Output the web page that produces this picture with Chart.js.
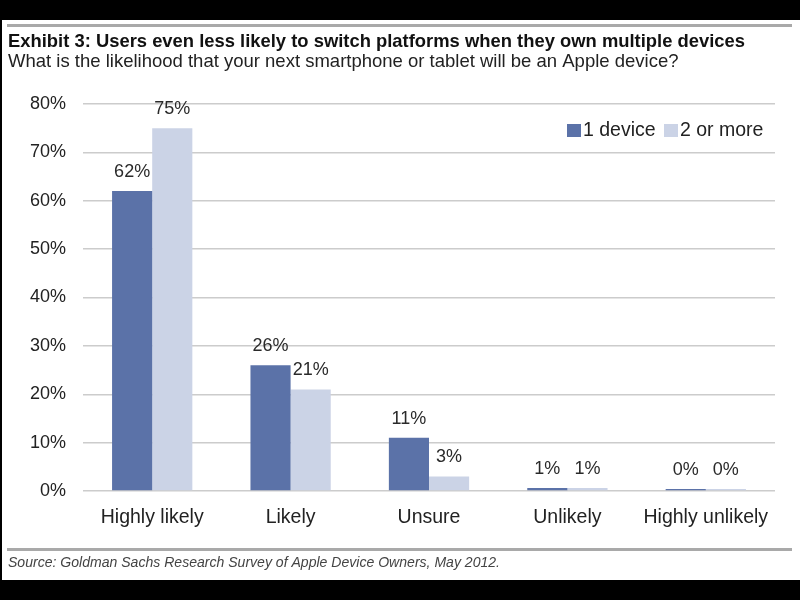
<!DOCTYPE html>
<html>
<head>
<meta charset="utf-8">
<script src="https://cdn.jsdelivr.net/npm/chart.js@4/dist/chart.umd.min.js"></script>
<style>
  html, body { margin: 0; padding: 0; background: #000; }
  canvas { display: block; }
</style>
</head>
<body>
<canvas id="myChart" width="800" height="600"></canvas>
<script>
// data
const categories = ["Highly likely", "Likely", "Unsure", "Unlikely", "Highly unlikely"];
const oneDevice = [62, 26, 11, 0.6, 0.4];
const twoOrMore = [75, 21, 3, 0.6, 0.4];
const seriesNames = ["1 device", "2 or more"];
const yTicks = [0, 10, 20, 30, 40, 50, 60, 70, 80];

const titleText = "Exhibit 3: Users even less likely to switch platforms when they own multiple devices";
const subtitleText = "What is the likelihood that your next smartphone or tablet will be an Apple device?";
const sourceText = "Source: Goldman Sachs Research Survey of Apple Device Owners, May 2012.";

const darkBlue = "#5b72a8";
const lightBlue = "#cbd3e6";
const FONT = "'Liberation Sans', Arial, Helvetica, sans-serif";

// page frame, title, source line
const framePlugin = {
  id: "frame",
  beforeDraw(chart) {
    const c = chart.ctx;
    c.save();
    c.fillStyle = "#000";
    c.fillRect(0, 0, 800, 600);
    c.fillStyle = "#fff";
    c.fillRect(2, 20, 798, 560);
    c.strokeStyle = "#a9a9a9";
    c.lineWidth = 3;
    c.beginPath();
    c.moveTo(7, 25.5); c.lineTo(792, 25.5);
    c.moveTo(7, 549.5); c.lineTo(792, 549.5);
    c.stroke();

    c.fillStyle = "#111";
    c.textBaseline = "middle";
    c.textAlign = "left";
    c.font = "bold 18.5px " + FONT;
    c.fillText(titleText, 8, 42, 737);
    c.font = "18.5px " + FONT;
    c.fillStyle = "#222";
    c.fillText(subtitleText, 8, 62, 690);
    c.font = "italic 14.5px " + FONT;
    c.fillStyle = "#444";
    c.fillText(sourceText, 8, 563, 492);
    c.restore();
  }
};

// value labels above bars + legend inside plot
const labelPlugin = {
  id: "valueLabels",
  afterDatasetsDraw(chart) {
    const c = chart.ctx;
    c.save();
    c.font = "500 18px " + FONT;
    c.fillStyle = "#2a2a2a";
    c.textAlign = "center";
    c.textBaseline = "middle";
    chart.data.datasets.forEach((ds, i) => {
      chart.getDatasetMeta(i).data.forEach((bar, j) => {
        c.fillText(Math.round(ds.data[j]) + "%", bar.x, bar.y - 19);
      });
    });

    // legend
    c.font = "19.5px " + FONT;
    c.textAlign = "left";
    c.fillStyle = darkBlue;
    c.fillRect(567, 124, 14, 13);
    c.fillStyle = "#222";
    c.fillText(seriesNames[0], 583, 131);
    c.fillStyle = lightBlue;
    c.fillRect(664, 124, 14, 13);
    c.fillStyle = "#222";
    c.fillText(seriesNames[1], 680, 131);
    c.restore();
  }
};

const ctx = document.getElementById("myChart").getContext("2d");
const myChart = new Chart(ctx, {
  type: "bar",
  data: {
    labels: categories,
    datasets: [
      {
        label: seriesNames[0],
        data: oneDevice,
        backgroundColor: darkBlue,
        categoryPercentage: 0.58,
        barPercentage: 1.0
      },
      {
        label: seriesNames[1],
        data: twoOrMore,
        backgroundColor: lightBlue,
        categoryPercentage: 0.58,
        barPercentage: 1.0
      }
    ]
  },
  options: {
    responsive: false,
    animation: false,
    layout: { padding: { top: 104, left: 0, right: 25, bottom: 64 } },
    plugins: {
      legend: { display: false },
      tooltip: { enabled: false }
    },
    scales: {
      x: {
        grid: { display: false },
        border: { display: false },
        ticks: { color: "#222", font: { family: FONT, size: 19.5 }, padding: 7 },
        afterFit(scale) { scale.height = 45; }
      },
      y: {
        min: 0,
        max: 80,
        afterBuildTicks(scale) { scale.ticks = yTicks.map(v => ({ value: v })); },
        grid: { color: "#cccccc", lineWidth: 1.5, drawTicks: false },
        border: { display: false },
        ticks: {
          color: "#222",
          font: { family: FONT, size: 18 },
          padding: 17,
          callback: v => v + "%"
        },
        afterFit(scale) { scale.width = 83; }
      }
    }
  },
  plugins: [framePlugin, labelPlugin]
});
</script>
</body>
</html>
